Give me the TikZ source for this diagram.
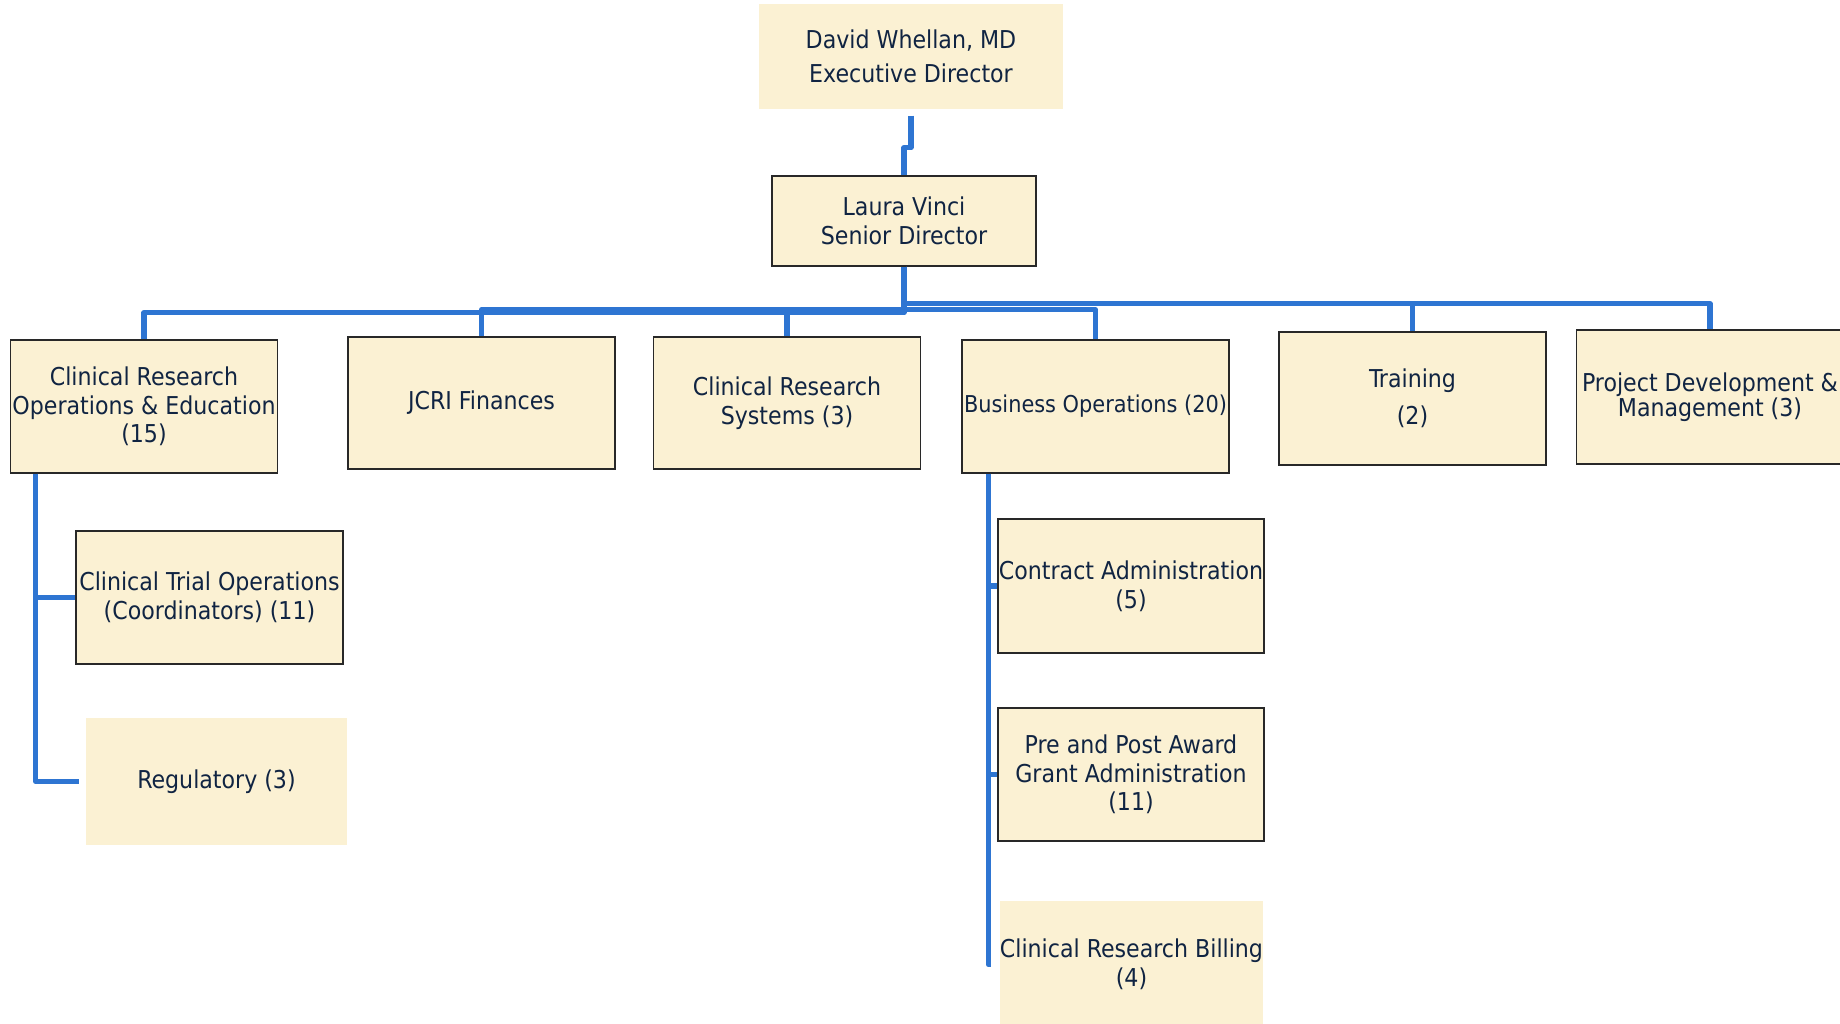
\documentclass[tikz,border=0pt]{standalone}
\usepackage{fontspec}
\setmainfont{DejaVu Sans Condensed}
\usepackage{tikz}
\usetikzlibrary{positioning}
\usepackage{xcolor}
\definecolor{paleBox}{RGB}{251,241,211}
\definecolor{edgeGrey}{RGB}{40,40,40}
\definecolor{linkBlue}{RGB}{46,117,210}
\definecolor{navyText}{RGB}{16,36,66}

\begin{document}
\begin{tikzpicture}[
    x=0.5pt, y=-0.5pt,
    unit/.style={rectangle, draw=edgeGrey, line width=0.7pt, fill=paleBox, minimum width=133.5pt, minimum height=66.5pt, inner sep=0pt, align=center, text=navyText, font=\fontsize{12.3}{14.3}\selectfont},
    plain/.style={unit, draw=none},
    link/.style={draw=linkBlue, line width=2.6pt, line join=round}
]
\useasboundingbox (0,0) rectangle (1840,1023);

\node[plain, minimum width=152pt, minimum height=52.5pt] (ed) at (911,56.5) {David Whellan, MD\\[3pt]Executive Director};
\node[unit, minimum width=132pt, minimum height=45pt] (sd) at (904,221) {Laura Vinci\\Senior Director};

\node[unit] (croe) at (144,406.5) {Clinical Research\\Operations \& Education\\(15)};
\node[unit, minimum height=66pt] (jcri) at (481.5,403) {JCRI Finances};
\node[unit, minimum height=66pt] (crs) at (787,403) {Clinical Research\\Systems (3)};
\node[unit, font=\fontsize{11.6}{14}\selectfont] (biz) at (1095.5,406.5) {Business Operations (20)};
\node[unit] (trn) at (1412.5,398.5) {Training\\[4pt](2)};
\node[unit, minimum height=67pt] (pdm) at (1710,397) {Project Development \&\\[-2pt]Management (3)};

\node[unit] (cto) at (209.5,597.5) {Clinical Trial Operations\\(Coordinators) (11)};
\node[plain, minimum width=130.5pt, minimum height=63.5pt] (reg) at (216.5,781.5) {Regulatory (3)};

\node[unit, minimum width=133pt, minimum height=67pt] (con) at (1131,586) {Contract Administration\\(5)};
\node[unit, minimum width=133pt, minimum height=66.5pt] (ppa) at (1131,774.5) {Pre and Post Award\\Grant Administration\\(11)};
\node[plain, minimum width=130.5pt, minimum height=63.5pt] (bill) at (1131.5,964.5) {Clinical Research Billing\\(4)};

% top of the chart
\draw[link] ([yshift=-3pt]ed.south) -- ++(0,32) -| (sd.north);

% first level
\draw[link] (sd.south) -- ++(0,46) -| (croe.north);
\draw[link] (sd.south) -- ++(0,43) -| (jcri.north);
\draw[link] (sd.south) -- ++(0,43) -| (crs.north);
\draw[link] (sd.south) -- ++(0,43) -| (biz.north);
\draw[link] (sd.south) -- ++(0,37) -| (trn.north);
\draw[link] (sd.south) -- ++(0,37) -| (pdm.north);

% second level
\draw[link] ([xshift=13pt]croe.south west) |- (cto.west);
\draw[link] ([xshift=13pt]croe.south west) |- ([xshift=-3pt]reg.west);
\draw[link] ([xshift=13.5pt]biz.south west) |- (con.west);
\draw[link] ([xshift=13.5pt]biz.south west) |- (ppa.west);
\draw[link] ([xshift=13.5pt]biz.south west) |- ([xshift=-4pt]bill.west);
\end{tikzpicture}
\end{document}
